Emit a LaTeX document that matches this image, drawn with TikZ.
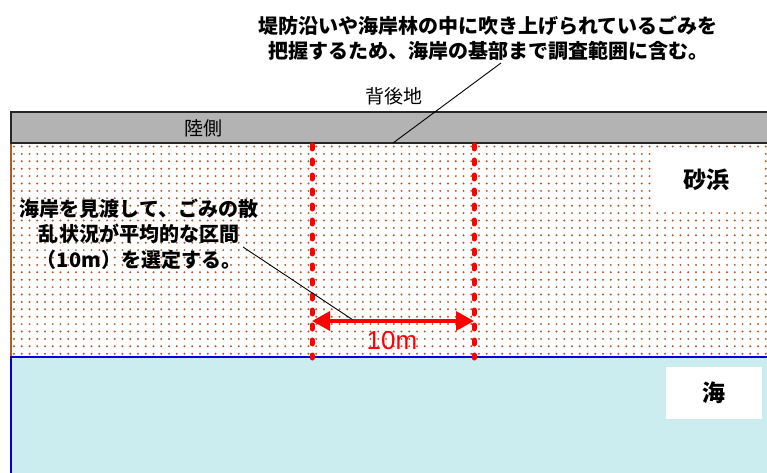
\documentclass[tikz,border=0pt]{standalone}
\usepackage{fontspec}
\usepackage{tikz}
\usetikzlibrary{arrows.meta}
\newfontfamily\jp{Noto Sans CJK JP}
\setsansfont{Liberation Sans}
\definecolor{seacol}{RGB}{204,237,240}
\definecolor{sandcol}{RGB}{180,90,40}
\definecolor{bandcol}{RGB}{179,179,179}

\begin{document}
\begin{tikzpicture}[x=1pt, y=-1pt,
    note/.style={font=\jp\bfseries\fontsize{20}{25.5}\selectfont, align=center, inner sep=0pt},
    plain/.style={font=\jp\fontsize{19}{22}\selectfont, inner sep=0pt},
    tag/.style={fill=white, font=\jp\bfseries\fontsize{23}{26}\selectfont},
    mark10/.style={red, line width=5pt, line cap=round, dash pattern=on 4pt off 11pt}]
            \useasboundingbox (0,0) rectangle (767,473);
            % sea
            \fill[seacol] (11,357) rectangle (767,473);
            \draw[blue!85!black, line width=1.4pt] (767,357) -- (11,357) -- (11,473);
            % sand with dots
            \scope
            \clip (11,143) rectangle (767,356);
            \foreach \i in {0,...,98}
              \foreach \j in {0,...,28}
                \fill[sandcol] (14+\i*7.75, 146.5+\j*7.4) circle (1.1pt);
            \endscope
            \draw[sandcol, line width=1.5pt] (11,143) -- (11,356);
            % land side band
            \draw[fill=bandcol, draw=black!85, line width=1.6pt] (11,112) rectangle (775,143);
            \node[plain] (land) at (203,128) {陸側};
            \node[plain] (back) at (394,96) {背後地};
            % labels
            \node[tag, minimum width=106pt, minimum height=61pt] (sand) at (706,180) {砂浜};
            \node[tag, minimum width=96pt, minimum height=52pt] (sea) at (714,393) {海};
            % 10m section
            \coordinate (l1) at (312,145);
            \coordinate (l2) at (312,358);
            \coordinate (r1) at (474,145);
            \coordinate (r2) at (474,358);
            \draw[mark10] (l1) -- (l2);
            \draw[mark10] (r1) -- (r2);
            \coordinate (aL) at (312,321);
            \coordinate (aR) at (474,321);
            \draw[red, line width=3.5pt, {Triangle[length=18pt,width=19pt]}-{Triangle[length=18pt,width=19pt]}] (aL) -- (aR);
            \node[red, font=\sffamily\fontsize{26}{28}\selectfont, inner sep=0pt] (len) at (392,341) {10m};
            % notes
            \node[note] (topnote) at (488,38) {堤防沿いや海岸林の中に吹き上げられているごみを\\把握するため、海岸の基部まで調査範囲に含む。};
            \coordinate (bandpt) at (393,143);
            \draw[line width=0.9pt] (501,63) -- (bandpt);
            \node[note] (leftnote) at (139,234) {海岸を見渡して、ごみの散\\乱状況が平均的な区間\\（10m）を選定する。};
            \coordinate (arrpt) at (353,320);
            \draw[line width=0.9pt] (243,247) -- (arrpt);
        \end{tikzpicture}
\end{document}
